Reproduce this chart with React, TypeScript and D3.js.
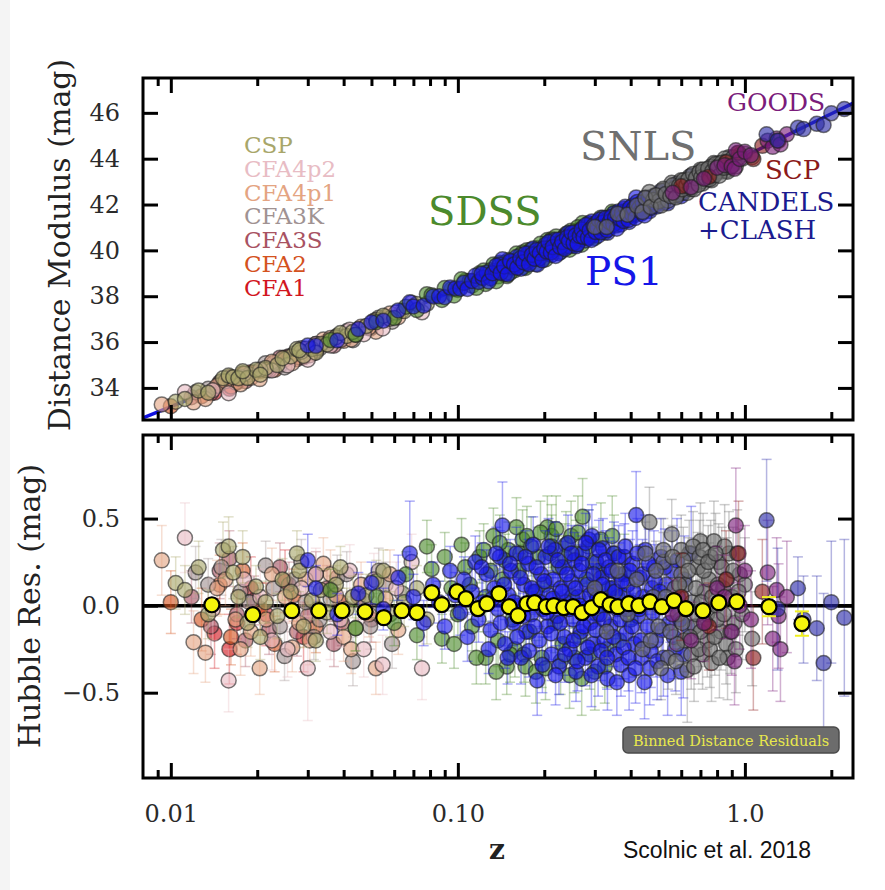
import React, { useEffect, useRef } from 'react';
import * as d3 from 'd3';

// [z, Hubble residual (mag), error (mag)]
type Sn = [number, number, number];

// Hubble-diagram best fit line
const hubbleZ = [0.008, 0.01, 0.02, 0.03, 0.05, 0.07, 0.1, 0.15, 0.2, 0.3, 0.5, 0.7, 1.0, 1.5, 2.0, 2.4];
const hubbleMu = [32.69, 33.18, 34.7, 35.59, 36.73, 37.5, 38.32, 39.26, 39.94, 40.92, 42.26, 43.15, 44.1, 45.2, 45.96, 46.44];

const cspData: Sn[] = [
  [0.0104, 0.13, 0.15], [0.0112, 0.09, 0.14], [0.0152, 0.32, 0.16], [0.0159, 0.34, 0.17], [0.0165, 0.19, 0.15],
  [0.0172, 0.05, 0.12], [0.0185, -0.1, 0.14], [0.0198, 0.11, 0.12], [0.0214, 0.02, 0.12], [0.0235, -0.06, 0.13],
  [0.0262, 0.08, 0.11], [0.0275, 0.3, 0.13], [0.029, -0.12, 0.12], [0.031, 0.03, 0.11], [0.0333, 0.09, 0.12],
  [0.035, -0.04, 0.12], [0.0376, 0.12, 0.11], [0.041, -0.02, 0.12], [0.0441, -0.13, 0.13], [0.048, 0.06, 0.12],
  [0.052, 0.14, 0.12], [0.058, -0.05, 0.13], [0.065, 0.02, 0.14], [0.072, 0.1, 0.13], [0.078, -0.08, 0.14],
  [0.0125, 0.22, 0.15], [0.0135, -0.05, 0.14], [0.0178, 0.28, 0.15], [0.0205, -0.18, 0.13], [0.0245, 0.15, 0.12],
  [0.028, 0.2, 0.12], [0.032, -0.2, 0.12], [0.039, 0.22, 0.12], [0.043, 0.05, 0.12], [0.055, 0.2, 0.12],
];
const cfa4p2Data: Sn[] = [
  [0.0112, 0.39, 0.2], [0.014, -0.02, 0.18], [0.0159, -0.43, 0.18], [0.018, 0.15, 0.16], [0.0225, -0.2, 0.17],
  [0.03, -0.36, 0.3], [0.032, 0.18, 0.15], [0.036, -0.15, 0.16], [0.042, 0.2, 0.15], [0.047, -0.25, 0.16],
  [0.0547, -0.34, 0.17], [0.061, 0.1, 0.15], [0.075, -0.36, 0.18], [0.069, 0.25, 0.16],
  [0.0205, 0.05, 0.16], [0.0255, -0.25, 0.16], [0.0285, 0.1, 0.16], [0.039, -0.08, 0.16], [0.051, 0.15, 0.15],
];
const cfa4p1Data: Sn[] = [
  [0.0093, 0.26, 0.2], [0.012, -0.21, 0.18], [0.0132, -0.27, 0.17], [0.0145, 0.1, 0.16], [0.0168, -0.08, 0.15],
  [0.019, -0.15, 0.14], [0.0204, -0.36, 0.15], [0.0225, 0.18, 0.15], [0.025, 0.05, 0.13], [0.028, -0.1, 0.14],
  [0.0305, -0.2, 0.14], [0.034, 0.24, 0.15], [0.0376, 0.06, 0.13], [0.04, -0.18, 0.14], [0.046, 0.12, 0.13],
  [0.0518, -0.36, 0.15], [0.056, 0.04, 0.14], [0.062, -0.14, 0.14],
  [0.0155, 0.15, 0.15], [0.0175, -0.25, 0.15], [0.0215, -0.08, 0.14], [0.0265, -0.24, 0.14], [0.0295, 0.15, 0.14],
  [0.0325, -0.02, 0.14], [0.036, 0.18, 0.14], [0.0425, -0.25, 0.14], [0.049, -0.05, 0.13], [0.058, 0.18, 0.14],
];
const cfa3kData: Sn[] = [
  [0.0122, 0.19, 0.15], [0.015, 0.22, 0.16], [0.0175, 0.08, 0.14], [0.0214, 0.23, 0.14], [0.024, -0.12, 0.14],
  [0.0249, -0.29, 0.14], [0.027, 0.15, 0.13], [0.0295, 0.02, 0.13], [0.033, -0.08, 0.13], [0.038, 0.16, 0.13],
  [0.0431, -0.32, 0.14], [0.047, 0.03, 0.13], [0.053, 0.2, 0.13], [0.059, -0.22, 0.14], [0.064, 0.07, 0.13],
  [0.0135, 0.12, 0.15], [0.0188, 0.02, 0.14], [0.0228, 0.1, 0.14], [0.0285, 0.25, 0.13], [0.0315, -0.18, 0.13],
  [0.036, 0.04, 0.13], [0.041, 0.18, 0.13], [0.0495, -0.12, 0.13], [0.056, 0.12, 0.13],
];
const cfa3sData: Sn[] = [
  [0.0118, 0.05, 0.15], [0.0138, -0.12, 0.16], [0.016, 0.27, 0.16], [0.017, -0.05, 0.14], [0.0195, 0.03, 0.14],
  [0.022, -0.14, 0.14], [0.0258, 0.12, 0.13], [0.03, -0.06, 0.13], [0.035, 0.1, 0.13], [0.0395, -0.1, 0.13],
  [0.045, 0.05, 0.13], [0.05, -0.08, 0.13],
  [0.0148, 0.2, 0.16], [0.0182, -0.2, 0.15], [0.024, 0.22, 0.14], [0.0275, -0.15, 0.14], [0.032, 0.18, 0.13],
  [0.037, -0.22, 0.13],
];
const cfa2Data: Sn[] = [
  [0.01, 0.02, 0.18], [0.0128, -0.08, 0.18], [0.0148, 0.12, 0.17], [0.0162, -0.18, 0.16], [0.0178, 0.2, 0.16],
  [0.0205, -0.02, 0.15], [0.023, -0.22, 0.16], [0.0268, 0.06, 0.15], [0.032, -0.12, 0.15], [0.039, 0.02, 0.15],
];
const cfa1Data: Sn[] = [
  [0.0142, -0.16, 0.2], [0.016, -0.25, 0.2], [0.017, -0.1, 0.18], [0.019, 0.1, 0.18], [0.0215, -0.05, 0.18],
  [0.025, 0.14, 0.18], [0.029, -0.18, 0.2],
];
const sdssData: Sn[] = [
  [0.036, 0.09, 0.12], [0.044, -0.13, 0.13], [0.052, 0.05, 0.12], [0.06, -0.1, 0.13], [0.066, 0.18, 0.13],
  [0.072, -0.17, 0.14], [0.078, 0.34, 0.15], [0.081, 0.21, 0.14], [0.088, -0.19, 0.14], [0.095, 0.1, 0.13],
  [0.1, -0.05, 0.13], [0.106, 0.22, 0.14], [0.112, -0.12, 0.14], [0.119, 0.28, 0.15], [0.125, 0.05, 0.14],
  [0.133, 0.4, 0.16], [0.138, -0.2, 0.15], [0.143, 0.15, 0.14], [0.15, 0.32, 0.16], [0.155, -0.08, 0.15],
  [0.158, -0.25, 0.16], [0.163, 0.2, 0.15], [0.168, 0.38, 0.17], [0.174, 0.4, 0.17], [0.178, -0.15, 0.16],
  [0.183, 0.08, 0.16], [0.19, 0.28, 0.17], [0.196, -0.3, 0.17], [0.2, 0.12, 0.17], [0.205, 0.45, 0.18],
  [0.212, 0.4, 0.18], [0.212, 0.34, 0.18], [0.218, -0.1, 0.17], [0.225, 0.22, 0.18], [0.232, -0.22, 0.18],
  [0.238, 0.35, 0.19], [0.245, -0.4, 0.19], [0.25, 0.05, 0.18], [0.258, 0.3, 0.19], [0.265, -0.18, 0.19],
  [0.272, 0.51, 0.22], [0.28, 0.15, 0.2], [0.288, -0.28, 0.2], [0.295, 0.25, 0.2], [0.305, -0.05, 0.2],
  [0.315, 0.38, 0.21], [0.325, -0.35, 0.21], [0.335, 0.1, 0.21], [0.35, 0.3, 0.22], [0.365, -0.2, 0.22],
  [0.38, 0.18, 0.23], [0.4, -0.08, 0.24], [0.125, -0.3, 0.15], [0.148, -0.35, 0.16], [0.17, -0.28, 0.16],
  [0.09, 0.28, 0.14], [0.097, -0.22, 0.14], [0.103, 0.35, 0.15], [0.11, 0.12, 0.14], [0.116, -0.3, 0.15],
  [0.123, 0.32, 0.15], [0.13, 0.2, 0.15], [0.136, -0.38, 0.16], [0.14, 0.36, 0.16], [0.146, 0.26, 0.15],
  [0.152, -0.28, 0.16], [0.16, 0.45, 0.17], [0.165, 0.3, 0.16], [0.172, -0.35, 0.17], [0.18, 0.34, 0.17],
  [0.187, -0.38, 0.18], [0.194, 0.42, 0.18], [0.202, -0.36, 0.18], [0.21, 0.3, 0.18], [0.22, 0.44, 0.19],
  [0.228, -0.32, 0.19], [0.236, 0.28, 0.19], [0.248, 0.4, 0.2], [0.255, -0.3, 0.2], [0.262, 0.42, 0.21],
  [0.27, -0.42, 0.21], [0.285, 0.34, 0.21], [0.3, -0.38, 0.22], [0.31, 0.2, 0.21], [0.33, -0.25, 0.22],
  [0.345, 0.4, 0.23], [0.36, 0.05, 0.22],
];
const ps1Data: Sn[] = [
  [0.03, 0.26, 0.15], [0.032, 0.1, 0.13], [0.038, -0.05, 0.12], [0.045, 0.07, 0.12], [0.05, 0.13, 0.12],
  [0.055, -0.02, 0.12], [0.062, 0.16, 0.13], [0.068, 0.3, 0.3], [0.07, 0.05, 0.13], [0.076, -0.1, 0.13],
  [0.082, 0.12, 0.13], [0.086, 0.02, 0.12], [0.09, -0.12, 0.13], [0.094, 0.2, 0.14], [0.098, 0.06, 0.13],
  [0.102, -0.04, 0.13], [0.105, 0.15, 0.13], [0.108, -0.18, 0.14], [0.112, 0.08, 0.13], [0.115, 0.25, 0.15],
  [0.118, -0.08, 0.13], [0.122, 0.02, 0.13], [0.126, 0.18, 0.14], [0.13, -0.14, 0.14], [0.134, 0.1, 0.13],
  [0.138, -0.02, 0.13], [0.143, 0.46, 0.25], [0.14, 0.28, 0.15], [0.146, -0.22, 0.14], [0.15, 0.06, 0.13],
  [0.153, 0.2, 0.14], [0.156, -0.1, 0.13], [0.16, 0.3, 0.15], [0.163, 0.0, 0.13], [0.166, -0.3, 0.15],
  [0.17, 0.12, 0.13], [0.173, -0.15, 0.14], [0.176, 0.24, 0.14], [0.18, -0.05, 0.13], [0.183, 0.35, 0.16],
  [0.186, 0.08, 0.13], [0.189, -0.43, 0.2], [0.192, -0.2, 0.14], [0.195, 0.18, 0.14], [0.198, -0.02, 0.13],
  [0.202, 0.28, 0.15], [0.205, -0.12, 0.14], [0.208, 0.06, 0.14], [0.212, -0.28, 0.15], [0.215, 0.15, 0.14],
  [0.218, 0.32, 0.16], [0.222, -0.06, 0.14], [0.225, -0.35, 0.16], [0.228, 0.1, 0.14], [0.232, 0.22, 0.15],
  [0.235, -0.18, 0.15], [0.238, 0.02, 0.14], [0.242, 0.36, 0.16], [0.245, -0.25, 0.15], [0.248, 0.14, 0.15],
  [0.252, -0.08, 0.15], [0.255, 0.26, 0.16], [0.258, -0.38, 0.17], [0.262, 0.05, 0.15], [0.265, 0.2, 0.15],
  [0.268, -0.15, 0.15], [0.272, 0.3, 0.16], [0.275, -0.02, 0.15], [0.278, -0.3, 0.16], [0.282, 0.12, 0.15],
  [0.286, 0.38, 0.17], [0.29, -0.1, 0.15], [0.293, 0.4, 0.18], [0.296, -0.22, 0.16], [0.3, 0.08, 0.16],
  [0.304, 0.25, 0.16], [0.308, -0.35, 0.17], [0.312, -0.05, 0.16], [0.316, 0.16, 0.16], [0.32, 0.33, 0.17],
  [0.324, -0.2, 0.17], [0.328, 0.02, 0.16], [0.332, -0.42, 0.18], [0.336, 0.22, 0.17], [0.34, -0.12, 0.17],
  [0.345, 0.1, 0.17], [0.35, 0.3, 0.18], [0.355, -0.28, 0.18], [0.36, -0.02, 0.17], [0.365, 0.18, 0.18],
  [0.37, -0.34, 0.18], [0.375, 0.06, 0.18], [0.38, 0.28, 0.19], [0.385, -0.16, 0.18], [0.39, 0.12, 0.18],
  [0.395, -0.4, 0.2], [0.4, 0.02, 0.18], [0.406, 0.24, 0.19], [0.412, -0.22, 0.19], [0.418, 0.52, 0.25],
  [0.424, -0.06, 0.19], [0.43, 0.16, 0.19], [0.436, -0.3, 0.2], [0.442, 0.05, 0.19], [0.45, 0.32, 0.2],
  [0.458, -0.12, 0.2], [0.466, -0.36, 0.21], [0.474, 0.1, 0.2], [0.482, 0.22, 0.21], [0.49, -0.2, 0.21],
  [0.5, 0.0, 0.21], [0.51, 0.28, 0.22], [0.52, -0.3, 0.22], [0.532, 0.12, 0.22], [0.545, -0.1, 0.23],
  [0.558, 0.2, 0.23], [0.572, -0.25, 0.24], [0.586, 0.05, 0.24], [0.6, -0.38, 0.25], [0.615, 0.15, 0.25],
  [0.632, -0.12, 0.26], [0.65, 0.3, 0.27],
  [0.121, 0.22, 0.14], [0.128, -0.25, 0.14], [0.132, 0.04, 0.13], [0.136, 0.3, 0.15], [0.141, -0.1, 0.13],
  [0.145, 0.12, 0.13], [0.149, -0.3, 0.15], [0.152, 0.24, 0.14], [0.157, 0.02, 0.13], [0.161, -0.18, 0.14],
  [0.165, 0.16, 0.14], [0.169, -0.06, 0.13], [0.172, 0.28, 0.15], [0.177, -0.26, 0.15], [0.181, 0.1, 0.14],
  [0.185, -0.12, 0.14], [0.188, 0.22, 0.15], [0.193, 0.02, 0.14], [0.197, -0.34, 0.16], [0.2, 0.14, 0.14],
  [0.204, -0.04, 0.14], [0.207, 0.34, 0.16], [0.211, -0.16, 0.15], [0.214, 0.04, 0.14], [0.219, -0.4, 0.17],
  [0.223, 0.26, 0.15], [0.227, -0.1, 0.15], [0.231, 0.08, 0.15], [0.236, -0.28, 0.16], [0.24, 0.18, 0.15],
  [0.244, -0.02, 0.15], [0.249, 0.3, 0.16], [0.253, -0.2, 0.16], [0.257, 0.1, 0.15], [0.261, -0.32, 0.17],
  [0.266, 0.0, 0.15], [0.27, 0.24, 0.16], [0.274, -0.12, 0.16], [0.279, 0.36, 0.17], [0.284, -0.24, 0.16],
  [0.288, 0.06, 0.16], [0.292, -0.4, 0.18], [0.297, 0.18, 0.16], [0.302, -0.14, 0.16], [0.306, 0.04, 0.16],
  [0.31, 0.32, 0.17], [0.315, -0.26, 0.17], [0.319, 0.12, 0.16], [0.323, -0.08, 0.16], [0.327, 0.26, 0.17],
  [0.331, -0.3, 0.18], [0.338, 0.0, 0.17], [0.343, 0.2, 0.17], [0.348, -0.18, 0.17], [0.353, 0.08, 0.17],
  [0.358, -0.44, 0.19], [0.363, 0.28, 0.18], [0.368, -0.08, 0.17], [0.373, 0.14, 0.18], [0.378, -0.24, 0.18],
  [0.383, 0.34, 0.19], [0.388, -0.02, 0.18], [0.393, -0.3, 0.19], [0.398, 0.2, 0.18], [0.404, -0.12, 0.19],
  [0.41, 0.08, 0.19], [0.416, -0.36, 0.2], [0.422, 0.3, 0.2], [0.428, -0.02, 0.19], [0.434, -0.2, 0.2],
  [0.44, 0.18, 0.2], [0.447, -0.44, 0.21], [0.454, 0.02, 0.2], [0.462, 0.24, 0.2], [0.47, -0.26, 0.21],
  [0.478, -0.04, 0.21], [0.486, 0.14, 0.21], [0.495, -0.32, 0.22], [0.505, 0.08, 0.22], [0.515, -0.14, 0.22],
  [0.526, 0.22, 0.22], [0.538, -0.4, 0.23], [0.55, 0.02, 0.23], [0.565, -0.18, 0.24], [0.58, 0.26, 0.24],
  [0.595, -0.08, 0.24], [0.61, -0.28, 0.25],
];
const snlsData: Sn[] = [
  [0.3, 0.1, 0.15], [0.33, -0.15, 0.15], [0.36, 0.2, 0.15], [0.39, -0.05, 0.16], [0.42, 0.15, 0.16],
  [0.44, -0.25, 0.17], [0.465, 0.48, 0.2], [0.48, 0.05, 0.16], [0.5, -0.12, 0.17], [0.52, 0.25, 0.17],
  [0.54, -0.3, 0.18], [0.556, 0.41, 0.2], [0.57, 0.1, 0.17], [0.585, -0.05, 0.18], [0.6, 0.18, 0.18],
  [0.615, -0.2, 0.18], [0.63, -0.37, 0.3], [0.64, 0.3, 0.19], [0.655, 0.02, 0.19], [0.67, -0.12, 0.19],
  [0.685, 0.22, 0.2], [0.7, 0.37, 0.22], [0.712, -0.28, 0.2], [0.725, 0.08, 0.2], [0.738, -0.05, 0.2],
  [0.75, 0.15, 0.21], [0.765, -0.33, 0.22], [0.78, 0.37, 0.23], [0.795, 0.0, 0.21], [0.81, 0.25, 0.22],
  [0.825, -0.15, 0.22], [0.84, 0.1, 0.22], [0.86, -0.22, 0.23], [0.88, 0.3, 0.24], [0.9, 0.05, 0.24],
  [0.92, -0.1, 0.25], [0.94, 0.3, 0.25], [0.96, 0.18, 0.26], [0.98, -0.05, 0.26], [1.0, 0.12, 0.27],
  [1.06, -0.19, 0.27], [0.52, 0.32, 0.18], [0.6, 0.32, 0.2], [0.68, -0.05, 0.19], [0.72, 0.2, 0.2],
  [0.76, 0.28, 0.21], [0.85, 0.34, 0.24], [0.58, -0.22, 0.18], [0.65, -0.28, 0.2], [0.74, -0.2, 0.21],
  [0.87, -0.3, 0.24], [0.62, 0.12, 0.18], [0.7, -0.15, 0.2], [0.8, -0.08, 0.22],
  [0.45, 0.3, 0.18], [0.47, -0.2, 0.17], [0.49, 0.2, 0.17], [0.51, -0.36, 0.18], [0.53, 0.05, 0.17],
  [0.55, -0.15, 0.18], [0.56, 0.28, 0.18], [0.575, -0.32, 0.19], [0.59, 0.12, 0.18], [0.605, -0.1, 0.19],
  [0.61, 0.26, 0.19], [0.625, -0.02, 0.19], [0.635, 0.2, 0.19], [0.645, -0.18, 0.2], [0.66, 0.34, 0.2],
  [0.665, -0.35, 0.2], [0.675, 0.1, 0.2], [0.69, -0.25, 0.2], [0.695, 0.28, 0.21], [0.705, 0.02, 0.2],
  [0.715, 0.32, 0.21], [0.73, -0.1, 0.21], [0.745, 0.25, 0.21], [0.755, -0.25, 0.22], [0.77, 0.05, 0.22],
  [0.785, -0.18, 0.22], [0.79, 0.3, 0.23], [0.805, 0.12, 0.22], [0.815, -0.3, 0.23], [0.83, 0.22, 0.23],
  [0.845, -0.05, 0.23], [0.865, 0.15, 0.24], [0.89, -0.15, 0.24], [0.91, 0.2, 0.25], [0.93, -0.25, 0.25],
  [0.95, 0.08, 0.25],
];
const scpData: Sn[] = [
  [0.6, 0.05, 0.25], [0.75, -0.12, 0.25], [0.86, 0.15, 0.28], [0.95, 0.3, 0.3], [1.07, -0.3, 0.3], [1.15, 0.08, 0.3],
];
const goodsData: Sn[] = [
  [0.56, -0.05, 0.2], [0.65, -0.2, 0.22], [0.72, -0.1, 0.22], [0.8, 0.1, 0.24], [0.85, 0.05, 0.24],
  [0.9, -0.15, 0.25], [0.92, -0.32, 0.25], [0.93, 0.46, 0.33], [0.96, 0.0, 0.25], [1.0, 0.2, 0.26],
  [1.05, -0.08, 0.28], [1.2, 0.19, 0.3], [1.25, -0.19, 0.3], [1.29, 0.09, 0.3], [1.31, -0.06, 0.3],
  [1.33, -0.25, 0.3], [1.4, 0.05, 0.32],
];
const candelsData: Sn[] = [
  [1.19, 0.49, 0.35], [1.3, -0.02, 0.35], [1.53, 0.1, 0.18], [1.6, -0.08, 0.25], [1.78, -0.13, 0.3],
  [1.88, -0.33, 0.4], [2.0, 0.02, 0.35], [2.22, -0.07, 0.45],
];

// binned distance residuals (yellow)
const binZ = [0.0139, 0.0193, 0.0264, 0.0328, 0.0395, 0.0475, 0.0552, 0.0638, 0.072, 0.0811, 0.0879, 0.0993,
  0.1067, 0.1175, 0.1262, 0.139, 0.151, 0.162, 0.174, 0.185, 0.203, 0.216, 0.234, 0.252, 0.271, 0.293, 0.315,
  0.339, 0.361, 0.394, 0.427, 0.467, 0.514, 0.566, 0.623, 0.714, 0.811, 0.937, 1.213, 1.58];
const binRes = [0.005, -0.052, -0.029, -0.029, -0.029, -0.034, -0.069, -0.029, -0.04, 0.075, 0.006, 0.08,
  0.04, -0.017, 0.011, 0.069, -0.006, -0.057, 0.011, 0.017, -0.006, 0.0, -0.011, -0.006, -0.04, -0.011, 0.034,
  0.006, -0.006, 0.011, 0.0, 0.023, -0.006, 0.029, -0.017, -0.029, 0.017, 0.023, -0.006, -0.103];
const binErr = [0.01, 0.01, 0.01, 0.01, 0.01, 0.01, 0.01, 0.01, 0.01, 0.01, 0.01, 0.01, 0.01, 0.01, 0.01,
  0.01, 0.01, 0.01, 0.01, 0.01, 0.01, 0.01, 0.01, 0.01, 0.01, 0.01, 0.01, 0.01, 0.01, 0.01, 0.01, 0.01, 0.01,
  0.02, 0.02, 0.02, 0.02, 0.03, 0.055, 0.07];

const muTicks = [34, 36, 38, 40, 42, 44, 46];
const resTicks = [-0.5, 0, 0.5];
const resTickLabels = ['\u22120.5', '0.0', '0.5'];
const zTicks = [0.01, 0.1, 1];
const zTickLabels = ['0.01', '0.10', '1.0'];
const zMinor = [0.009, 0.02, 0.03, 0.04, 0.05, 0.06, 0.07, 0.08, 0.09, 0.2, 0.3, 0.4, 0.5, 0.6, 0.7, 0.8, 0.9, 2];

// draw order: low-z first, high-z last
const surveys = [
  { name: 'CFA1', color: '#d2161e', data: cfa1Data },
  { name: 'CFA2', color: '#d4521e', data: cfa2Data },
  { name: 'CFA3S', color: '#a85262', data: cfa3sData },
  { name: 'CFA3K', color: '#a09292', data: cfa3kData },
  { name: 'CFA4p1', color: '#e4a482', data: cfa4p1Data },
  { name: 'CFA4p2', color: '#e8bcc4', data: cfa4p2Data },
  { name: 'CSP', color: '#a8a66a', data: cspData },
  { name: 'SDSS', color: '#4c8a2c', data: sdssData },
  { name: 'PS1', color: '#1616e8', data: ps1Data },
  { name: 'SNLS', color: '#707070', data: snlsData },
  { name: 'SCP', color: '#8b1a1a', data: scpData },
  { name: 'GOODS', color: '#7b1c7b', data: goodsData },
  { name: 'CANDELS', color: '#2a2aa8', data: candelsData },
];

const App = () => {
  const svgRef = useRef<SVGSVGElement>(null);

  useEffect(() => {
    const svg = d3.select(svgRef.current);
    svg.selectAll('*').remove();

    const left = 143;
    const right = 853;
    const top1 = 78;
    const bot1 = 420;
    const top2 = 435;
    const bot2 = 778;
    const serif = 'DejaVu Serif';

    const x = d3.scaleLog().domain([0.008, 2.38]).range([left, right]);
    const yMu = d3.scaleLinear().domain([32.6, 47.52]).range([bot1, top1]);
    const yRes = d3.scaleLinear().domain([-0.99, 0.98]).range([bot2, top2]);
    const muModel = d3.scaleLog().domain(hubbleZ).range(hubbleMu);

    svg.append('rect').attr('width', 885).attr('height', 890).attr('fill', '#fff');
    svg.append('rect').attr('width', 10).attr('height', 890).attr('fill', '#f4f4f4');

    const defs = svg.append('defs');
    defs.append('clipPath').attr('id', 'clipTop')
      .append('rect').attr('x', left).attr('y', top1).attr('width', right - left).attr('height', bot1 - top1);
    defs.append('clipPath').attr('id', 'clipBot')
      .append('rect').attr('x', left).attr('y', top2).attr('width', right - left).attr('height', bot2 - top2);

    const markR = 7.5;
    const fillOp = 0.62;
    const edgeOp = 0.6;

    // ---------- top panel ----------
    const gTop = svg.append('g').attr('clip-path', 'url(#clipTop)');

    const line = d3.line<number>()
      .x((_, i) => x(hubbleZ[i]))
      .y((d) => yMu(d))
      .curve(d3.curveMonotoneX);
    gTop.append('path')
      .attr('d', line(hubbleMu))
      .attr('fill', 'none')
      .attr('stroke', '#1010e0')
      .attr('stroke-width', 3.5);

    surveys.forEach((s) => {
      gTop.append('g')
        .selectAll('circle')
        .data(s.data)
        .enter()
        .append('circle')
        .attr('cx', (d) => x(d[0]))
        .attr('cy', (d) => yMu(muModel(d[0]) + d[1]))
        .attr('r', markR)
        .attr('fill', s.color)
        .attr('fill-opacity', fillOp)
        .attr('stroke', '#222')
        .attr('stroke-opacity', edgeOp)
        .attr('stroke-width', 1.5);
    });

    // ---------- bottom panel ----------
    const gBot = svg.append('g').attr('clip-path', 'url(#clipBot)');

    gBot.append('line')
      .attr('x1', left).attr('x2', right)
      .attr('y1', yRes(0)).attr('y2', yRes(0))
      .attr('stroke', '#000').attr('stroke-width', 3.5);

    surveys.forEach((s) => {
      const g = gBot.append('g');
      const eb = g.append('g')
        .attr('stroke', s.color)
        .attr('stroke-opacity', 0.35)
        .attr('stroke-width', 1.5);
      eb.selectAll('line.v').data(s.data).enter().append('line')
        .attr('x1', (d) => x(d[0])).attr('x2', (d) => x(d[0]))
        .attr('y1', (d) => yRes(d[1] - d[2])).attr('y2', (d) => yRes(d[1] + d[2]));
      [-1, 1].forEach((sgn) => {
        eb.selectAll(`line.c${sgn}`).data(s.data).enter().append('line')
          .attr('x1', (d) => x(d[0]) - 5).attr('x2', (d) => x(d[0]) + 5)
          .attr('y1', (d) => yRes(d[1] + sgn * d[2])).attr('y2', (d) => yRes(d[1] + sgn * d[2]));
      });
      g.selectAll('circle')
        .data(s.data)
        .enter()
        .append('circle')
        .attr('cx', (d) => x(d[0]))
        .attr('cy', (d) => yRes(d[1]))
        .attr('r', markR)
        .attr('fill', s.color)
        .attr('fill-opacity', fillOp)
        .attr('stroke', '#222')
        .attr('stroke-opacity', edgeOp)
        .attr('stroke-width', 1.5);
    });

    // binned residuals
    const bins = binZ.map((z, i) => ({ z, r: binRes[i], e: binErr[i] }));
    const gBin = gBot.append('g');
    const beb = gBin.append('g').attr('stroke', '#f0f020').attr('stroke-width', 2);
    beb.selectAll('line.v').data(bins).enter().append('line')
      .attr('x1', (d) => x(d.z)).attr('x2', (d) => x(d.z))
      .attr('y1', (d) => yRes(d.r - d.e)).attr('y2', (d) => yRes(d.r + d.e));
    [-1, 1].forEach((sgn) => {
      beb.selectAll(`line.c${sgn}`).data(bins).enter().append('line')
        .attr('x1', (d) => x(d.z) - 7).attr('x2', (d) => x(d.z) + 7)
        .attr('y1', (d) => yRes(d.r + sgn * d.e)).attr('y2', (d) => yRes(d.r + sgn * d.e));
    });
    gBin.selectAll('circle').data(bins).enter().append('circle')
      .attr('cx', (d) => x(d.z))
      .attr('cy', (d) => yRes(d.r))
      .attr('r', 7.5)
      .attr('fill', '#f5f50c')
      .attr('stroke', '#000')
      .attr('stroke-width', 2.2);

    // legend box
    svg.append('rect')
      .attr('x', 623).attr('y', 727).attr('width', 216).attr('height', 26).attr('rx', 5)
      .attr('fill', '#6c6c6c').attr('stroke', '#4a4a4a').attr('stroke-width', 1.5);
    svg.append('text')
      .attr('x', 731).attr('y', 745.5)
      .attr('text-anchor', 'middle')
      .attr('font-family', serif)
      .attr('font-size', 14.5)
      .attr('fill', '#e8e84c')
      .text('Binned Distance Residuals');

    // ---------- axes / ticks ----------
    const styleAxis = (g: any) => {
      g.select('.domain').remove();
      g.selectAll('line').attr('stroke', '#000').attr('stroke-width', 3);
      g.selectAll('text').attr('font-family', serif).attr('font-size', 24).attr('fill', '#2a2a2a');
    };

    [[top1, bot1], [top2, bot2]].forEach(([t, b], pi) => {
      svg.append('g').attr('transform', `translate(0,${b})`)
        .call(d3.axisBottom(x).tickValues(zTicks).tickSize(-15)
          .tickPadding(27)
          .tickFormat((_, i) => (pi === 1 ? zTickLabels[i] : '')))
        .call(styleAxis);
      svg.append('g').attr('transform', `translate(0,${b})`)
        .call(d3.axisBottom(x).tickValues(zMinor).tickSize(-8).tickFormat(() => ''))
        .call(styleAxis);
      svg.append('g').attr('transform', `translate(0,${t})`)
        .call(d3.axisTop(x).tickValues(zTicks).tickSize(-15).tickFormat(() => ''))
        .call(styleAxis);
      svg.append('g').attr('transform', `translate(0,${t})`)
        .call(d3.axisTop(x).tickValues(zMinor).tickSize(-8).tickFormat(() => ''))
        .call(styleAxis);
    });

    svg.append('g').attr('transform', `translate(${left},0)`)
      .call(d3.axisLeft(yMu).tickValues(muTicks).tickSize(-15).tickPadding(23).tickFormat(d3.format('d')))
      .call(styleAxis);
    svg.append('g').attr('transform', `translate(${right},0)`)
      .call(d3.axisRight(yMu).tickValues(muTicks).tickSize(-15).tickFormat(() => ''))
      .call(styleAxis);
    svg.append('g').attr('transform', `translate(${left},0)`)
      .call(d3.axisLeft(yRes).tickValues(resTicks).tickSize(-15).tickPadding(23)
        .tickFormat((_, i) => resTickLabels[i]))
      .call(styleAxis);
    svg.append('g').attr('transform', `translate(${right},0)`)
      .call(d3.axisRight(yRes).tickValues(resTicks).tickSize(-15).tickFormat(() => ''))
      .call(styleAxis);

    // frames
    [[top1, bot1], [top2, bot2]].forEach(([t, b]) => {
      svg.append('rect')
        .attr('x', left).attr('y', t).attr('width', right - left).attr('height', b - t)
        .attr('fill', 'none').attr('stroke', '#000').attr('stroke-width', 3);
    });

    // axis titles
    svg.append('text')
      .attr('transform', `translate(70,245) rotate(-90)`)
      .attr('text-anchor', 'middle')
      .attr('font-family', serif).attr('font-size', 30).attr('fill', '#222')
      .text('Distance Modulus (mag)');
    svg.append('text')
      .attr('transform', `translate(40,606) rotate(-90)`)
      .attr('text-anchor', 'middle')
      .attr('font-family', serif).attr('font-size', 30).attr('fill', '#222')
      .text('Hubble Res. (mag)');
    svg.append('text')
      .attr('x', 497).attr('y', 859)
      .attr('text-anchor', 'middle')
      .attr('font-family', serif).attr('font-size', 28).attr('font-weight', 600).attr('fill', '#222')
      .text('z');
    svg.append('text')
      .attr('x', 623).attr('y', 858)
      .attr('font-family', 'Liberation Sans, Arial, sans-serif').attr('font-size', 23).attr('fill', '#111')
      .text('Scolnic et al. 2018');

    // survey labels
    const lowLabels = [
      ['CSP', '#a8a66a'], ['CFA4p2', '#e8bcc4'], ['CFA4p1', '#e4a482'], ['CFA3K', '#a09292'],
      ['CFA3S', '#a85262'], ['CFA2', '#d4521e'], ['CFA1', '#d2161e'],
    ];
    lowLabels.forEach(([t, c], i) => {
      svg.append('text')
        .attr('x', 244).attr('y', 153 + i * 23.8)
        .attr('font-family', serif).attr('font-size', 23).attr('fill', c)
        .text(t);
    });
    const bigLabels: [string, string, number, number, number][] = [
      ['SDSS', '#4c8a2c', 428, 225, 40],
      ['PS1', '#1616e8', 585, 285, 39],
      ['SNLS', '#707070', 580, 160, 40],
      ['GOODS', '#7b1c7b', 727, 111, 25],
      ['SCP', '#8b1a1a', 765, 179, 26],
      ['CANDELS', '#1b1b8f', 698, 211, 26],
      ['+CLASH', '#1b1b8f', 698, 239, 26],
    ];
    bigLabels.forEach(([t, c, lx, ly, fs]) => {
      svg.append('text')
        .attr('x', lx).attr('y', ly)
        .attr('font-family', serif).attr('font-size', fs).attr('fill', c)
        .text(t);
    });
  }, []);

  return (
    <svg
      ref={svgRef}
      width={885}
      height={890}
      style={{ position: 'absolute', left: 0, top: 0 }}
    />
  );
};

export default App;
